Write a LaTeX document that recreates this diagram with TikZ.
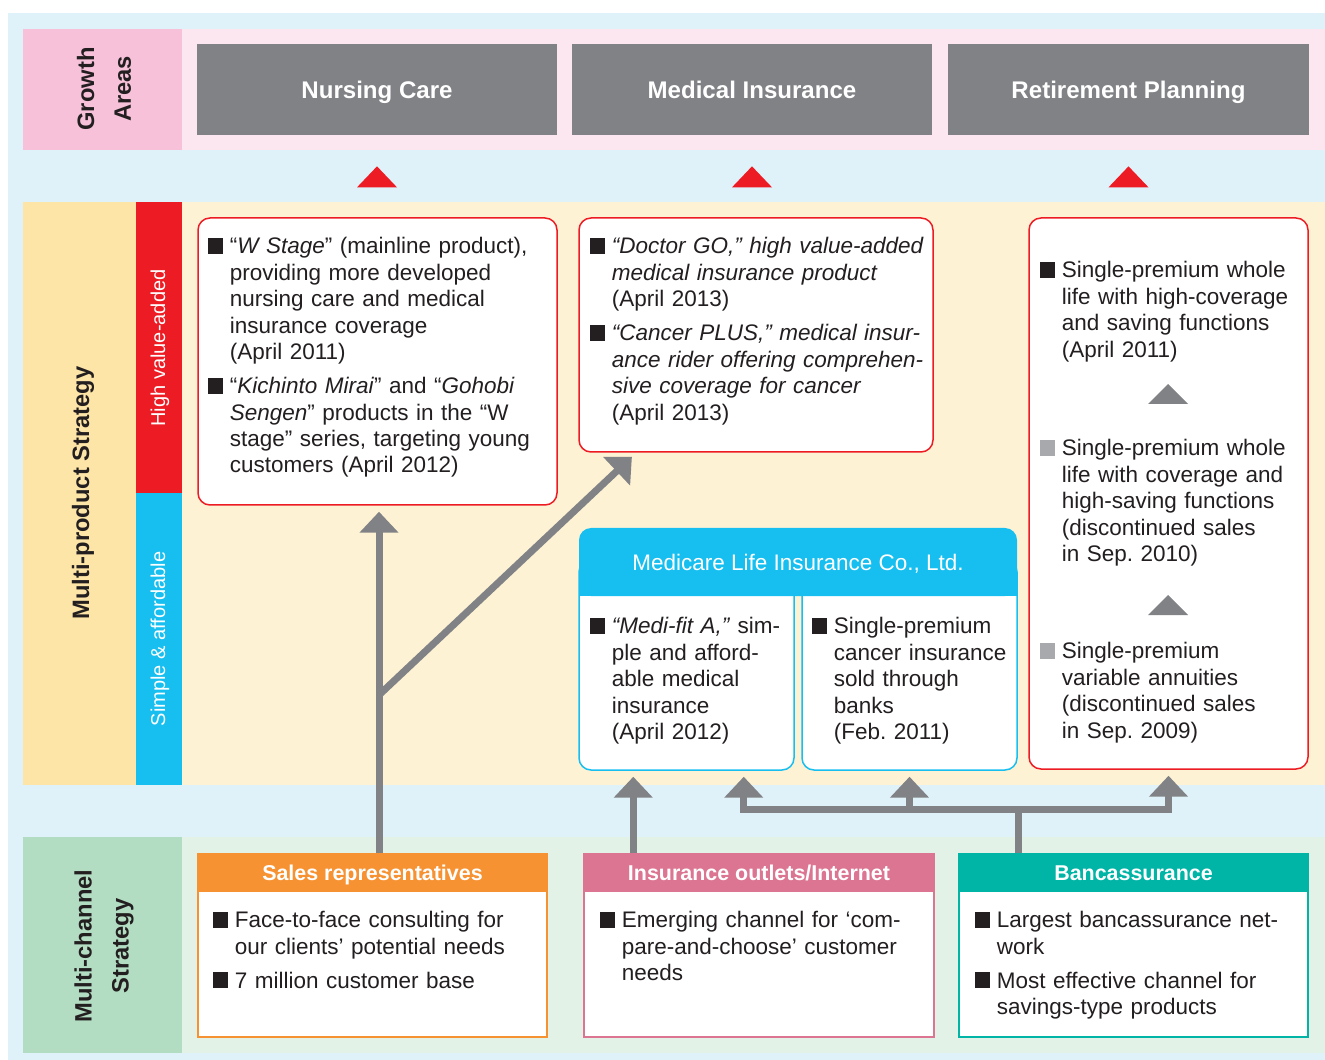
\documentclass[tikz,border=0pt]{standalone}
\usepackage{fontspec}
\setmainfont{Liberation Sans}
\usetikzlibrary{arrows.meta,calc,fit}

\definecolor{bgblue}{HTML}{DFF2FA}
\definecolor{growthlab}{HTML}{F6C1D9}
\definecolor{growthband}{HTML}{FCE6F0}
\definecolor{areagray}{HTML}{808285}
\definecolor{arrowgray}{HTML}{808285}
\definecolor{hvred}{HTML}{ED1C24}
\definecolor{multilab}{HTML}{FDE5A7}
\definecolor{cream}{HTML}{FEF2D4}
\definecolor{sacyan}{HTML}{17BFF0}
\definecolor{channellab}{HTML}{B3DDC2}
\definecolor{channelband}{HTML}{E2F2E6}
\definecolor{salesorange}{HTML}{F79232}
\definecolor{outletpink}{HTML}{DC7592}
\definecolor{bancteal}{HTML}{00B4A6}
\definecolor{bulletgray}{HTML}{A7A9AC}
\definecolor{textc}{HTML}{231F20}

\newcommand{\bodyfont}{\fontsize{12.8}{15.07}\selectfont\frenchspacing}
\newcommand{\blt}{\noindent\hangindent=0.43cm\hangafter=1\makebox[0.43cm][l]{\rule{0.3cm}{0.32cm}}}
\newcommand{\gblt}{\noindent\hangindent=0.43cm\hangafter=1\makebox[0.43cm][l]{\textcolor{bulletgray}{\rule{0.3cm}{0.32cm}}}}
\newcommand{\igap}{\par\vspace{0.15cm}}

\begin{document}
\begin{tikzpicture}[x=0.02cm, y=-0.02cm]
  \tikzstyle{growth} = [fill=areagray, text=white, inner sep=0, minimum height=1.82cm, text height=9.8pt, text depth=0pt, font=\fontsize{13.7}{16}\selectfont\bfseries]
  \tikzstyle{hvbox} = [draw=hvred, fill=white, line width=0.03cm, rounded corners=0.24cm, inner sep=0]
  \tikzstyle{sabox} = [draw=sacyan, fill=white, line width=0.03cm, rounded corners=0.24cm, inner sep=0]
  \tikzstyle{chbox} = [fill=white, line width=0.03cm, inner sep=0]
  \tikzstyle{chhead} = [text=white, inner sep=0, minimum height=0.76cm, text height=8.8pt, text depth=0pt, font=\fontsize{12.2}{15}\selectfont\bfseries]
  \tikzstyle{txt} = [anchor=north west, inner sep=0, text=textc, font=\bodyfont]
  \tikzstyle{vlabel} = [rotate=90, align=center, text=textc, font=\fontsize{13.5}{21}\selectfont\bfseries]
  \tikzstyle{vtag} = [rotate=90, text=white, font=\fontsize{11.4}{14}\selectfont]
  \tikzstyle{garrow} = [draw=arrowgray, line width=0.14cm, shorten >=0.12cm, -{Triangle[width=0.76cm, length=0.42cm]}]
  \tikzstyle{gline} = [draw=arrowgray, line width=0.14cm]

  % bands
  \useasboundingbox (0,0) rectangle (1325,1060);
  \fill[bgblue] (8,13) rectangle (1325,1060);
  \fill[growthlab] (23,29) rectangle (182,150);
  \fill[growthband] (182,29) rectangle (1325,150);
  \fill[multilab] (23,202) rectangle (136,785);
  \fill[hvred] (136,202) rectangle (182,493);
  \fill[sacyan] (136,493) rectangle (182,785);
  \fill[cream] (182,202) rectangle (1325,785);
  \fill[channellab] (23,837) rectangle (182,1053);
  \fill[channelband] (182,837) rectangle (1325,1053);

  \node[vlabel] (ga) at (104,89) {Growth\\Areas};
  \node[vlabel] (mps) at (83,493) {Multi-product Strategy};
  \node[vtag] (hva) at (160,348) {High value-added};
  \node[vtag] (saf) at (160,639) {Simple \& affordable};
  \node[vlabel] (mcs) at (104,946) {Multi-channel\\Strategy};

  % growth areas
  \node[growth, minimum width=7.2cm] (nc) at (377,89.5) {Nursing Care};
  \node[growth, minimum width=7.2cm] (mi) at (752,89.5) {Medical Insurance};
  \node[growth, minimum width=7.22cm] (rp) at (1128.5,89.5) {Retirement Planning};
  \foreach \g in {nc,mi,rp}
    \fill[hvred] ($(\g.south)+(-20,52)$) -- ++(40,0) -- ++(-20,-21) -- cycle;

  % products
  \node[hvbox, fit={(198,218) (557,505)}] (hv1) {};
  \node[hvbox, fit={(579,218) (933,452)}] (hv2) {};
  \node[hvbox, fit={(1029,218) (1308,769)}] (hv3) {};
  \node[sabox, fit={(579,560) (794,770)}] (mfit) {};
  \node[sabox, fit={(802,560) (1017,770)}] (canc) {};
  \fill[sacyan, rounded corners=0.24cm] (579,528) rectangle (1017,596);
  \fill[sacyan] (579,580) rectangle (1017,596);
  \node[text=white, font=\bodyfont] (mlic) at (798,564) {Medicare Life Insurance Co., Ltd.};

  \node[txt, text width=6.86cm] (hv1t) at (208,237) {\blt “\textit{W Stage}” (mainline product),\newline providing more developed\newline nursing care and medical\newline insurance coverage\newline (April 2011)\igap
    \blt “\textit{Kichinto Mirai}” and “\textit{Gohobi}\newline \textit{Sengen}” products in the “W\newline stage” series, targeting young\newline customers (April 2012)\par};
  \node[txt, text width=6.74cm] (hv2t) at (590,237) {\blt \textit{“Doctor GO,” high value-added\newline medical insurance product}\newline (April 2013)\igap
    \blt \textit{“Cancer PLUS,” medical insur-\newline ance rider offering comprehen-\newline sive coverage for cancer}\newline (April 2013)\par};
  \node[txt, text width=5.24cm] (hv3a) at (1040,261) {\blt Single-premium whole\newline life with high-coverage\newline and saving functions\newline (April 2011)\par};
  \node[txt, text width=5.24cm] (hv3b) at (1040,439) {\gblt Single-premium whole\newline life with coverage and\newline high-saving functions\newline (discontinued sales\newline in Sep. 2010)\par};
  \node[txt, text width=5.24cm] (hv3c) at (1040,642) {\gblt Single-premium\newline variable annuities\newline (discontinued sales\newline in Sep. 2009)\par};
  \foreach \ty in {404,615}
    \fill[arrowgray] (1148,\ty) -- ++(40,0) -- ++(-20,-20) -- cycle;
  \node[txt, text width=4cm] (mfitt) at (590,617) {\blt \textit{“Medi-fit A,”} sim-\newline ple and afford-\newline able medical\newline insurance\newline (April 2012)\par};
  \node[txt, text width=4cm] (canct) at (812,617) {\blt Single-premium\newline cancer insurance\newline sold through\newline banks\newline (Feb. 2011)\par};

  % channels
  \node[chbox, draw=salesorange, fit={(198,854) (547,1037)}] (sales) {};
  \node[chhead, fill=salesorange, minimum width=6.98cm] (salesh) at (372.5,873) {Sales representatives};
  \node[chbox, draw=outletpink, fit={(584,854) (934,1037)}] (outl) {};
  \node[chhead, fill=outletpink, minimum width=7cm] (outlh) at (759,873) {Insurance outlets/Internet};
  \node[chbox, draw=bancteal, fit={(959,854) (1308,1037)}] (banc) {};
  \node[chhead, fill=bancteal, minimum width=6.98cm] (banch) at (1133.5,873) {Bancassurance};
  \node[txt, text width=6.56cm] (salest) at (213,911) {\blt Face-to-face consulting for\newline our clients’ potential needs\igap
    \blt 7 million customer base\par};
  \node[txt, text width=6.56cm] (outlt) at (600,911) {\blt Emerging channel for ‘com-\newline pare-and-choose’ customer\newline needs\par};
  \node[txt, text width=6.54cm] (banct) at (975,911) {\blt Largest bancassurance net-\newline work\igap
    \blt Most effective channel for\newline savings-type products\par};

  % arrows
  \coordinate (brk) at (379,695);
  \draw[garrow] (brk |- sales.north) -- (brk |- hv1.south);
  \draw[garrow] (brk) -- ($(hv2.south west)+(58,0)$);
  \coordinate (oup) at ($(outl.north west)+(50,0)$);
  \draw[garrow] (oup) -- (oup |- mfit.south);
  \coordinate (bup) at ($(banc.north west)+(60,0)$);
  \coordinate (bbar) at ($(bup)+(0,-44)$);
  \draw[gline] (bup) -- (bbar);
  \coordinate (mfr) at ($(mfit.south east)+(-51,0)$);
  \draw[garrow] (bbar) -| (mfr);
  \draw[garrow] (bbar) -| (hv3.south);
  \draw[garrow] (bbar -| canc.south) -- (canc.south);
\end{tikzpicture}
\end{document}
